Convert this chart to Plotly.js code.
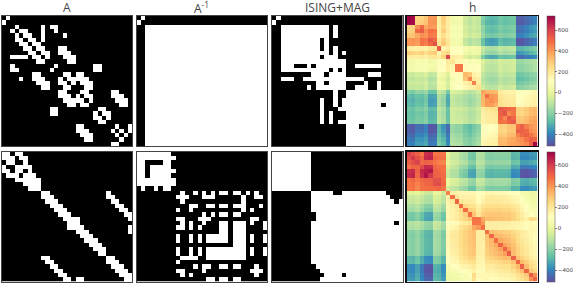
<!DOCTYPE html>
<html><head><meta charset="utf-8">
<script src="https://cdn.plot.ly/plotly-3.0.1.min.js"></script>
<style>html,body{margin:0;padding:0;background:#fff;overflow:hidden}</style></head>
<body><div id="c" style="width:573px;height:284px"></div>
<script>
const titles=["A","A<sup>-1</sup>","ISING+MAG","h"];
const colTicks=[600,400,200,0,-200,-400];
const aTop=["1","","3 9 11 12","4 5 9 12","5 6 9 14","6 7 9","7 8","8 9 13 14","9 10 13 14 15","10 14 15 16","15 16","12 21 22","21 22","14 15 17 18","15 16 17 18 19","16 18 19 20","19 20","18 19 25 26","19 20 25 26 27","20 26 27 28","27 28","22 23","23 24","24","","26 29","27 29","28","",""];
const invTop=["1","","2-29","3-29","4-29","5-29","6-29","7-29","8-29","9-29","10-29","11-29","12-29","13-29","14-29","15-29","16-29","17-29","18-29","19-29","20-29","21-29","22-29","23-29","24-29","25-29","26-29","27-29","28-29","29"];
const isingTop=["1","","2-12 14","3-12 14","4-12 14","5-10 12","6-10 12","7-10 12 14","8-12 14 16","9 10 12-14","10-16","11-16 19-24","12 14 16","13-16 22-24","14-20","15 16 21 24","16 19 20 21 24","17-29","18-29","19-29","20-24 26-29","21-29","22-29","23-29","24-29","25-29","26-29","27-29","28 29","29"];
const aBot=["0 1 3 4","1 2 4 5","2 5","3 4 5 6","4 6","5 6 7","6 7 8","7 8","8","9 10 24","10 11 24 25","11 12 25 26","12 13 26 27","13 14 27 28","14 15 28 29","15 16 17 29","16 17","17 18 29","18 19 29","19 20","20 21","21 22","22 23","23","24 25","25 26","26 27","27 28","28 29","29"];
const invBot=["0-7","1-8","6 7","3-7","4-8","5-7","6-8","7 8","","10 13 15 17 19 20 22 23 25 27","10 11 15 16 17 24 27 28","24","12 13 16 17 19 20 22 23 24 28","24 26","15 17 19 20 22 23","15 16 26 27","19 20 22 23 24 26 29","19 20 22 23 24 29","19 20 22 23 24","19 20 22 23 24 26 29","20 22 23 24 26 29","22 23 24","22 23 24 26 29","23 24 26 29","24","","27","27 28","",""];
const isingBot=["0-8","1-8","2-8","3-8","4-8","5-8","6-8","7 8","8","9-13 16-25","10-26","11-27 29","12-29","13-29","14-29","15-29","16-27 29","17-29","18-29","19-29","20-29","21-29","22-29","23-29","24-29","25-29","26-29","27-29","28 29","29"];
const hTop=[
[730,720,260,260,300,400,400,180,280,190,50,60,60,-60,-90,-60,-80,-210,-270,-290,-280,-240,-260,-250,-240,-480,-480,-450,-420,-400],
[720,270,280,310,410,410,170,270,180,40,50,50,-70,-100,-70,-90,-230,-290,-300,-290,-250,-270,-260,-250,-490,-490,-460,-430,-410],
[420,500,370,400,390,170,250,180,70,70,70,-50,-80,-60,-80,-180,-250,-270,-260,-220,-240,-230,-220,-440,-430,-400,-360,-340],
[530,420,480,470,170,280,190,60,70,60,-60,-90,-70,-90,-190,-270,-280,-270,-230,-250,-240,-230,-450,-440,-410,-370,-350],
[400,460,450,160,230,170,70,70,70,-40,-70,-50,-60,-170,-230,-240,-230,-200,-220,-210,-200,-410,-400,-370,-340,-320],
[540,500,200,270,200,40,60,30,-90,-130,-100,-120,-260,-330,-350,-340,-280,-300,-290,-280,-500,-500,-470,-440,-420],
[560,210,290,210,50,50,40,-80,-120,-90,-110,-250,-320,-340,-330,-270,-290,-280,-270,-490,-490,-460,-430,-410],
[530,150,180,120,120,120,60,30,50,40,-80,-130,-140,-130,-90,-110,-100,-90,-290,-290,-270,-240,-220],
[230,260,110,120,110,40,10,30,20,-110,-170,-180,-170,-130,-150,-140,-130,-360,-350,-320,-290,-270],
[590,190,170,170,-30,-60,-40,-60,-230,-300,-320,-310,-250,-270,-260,-250,-450,-450,-420,-400,-380],
[210,150,140,90,60,80,70,-40,-80,-90,-80,-50,-60,-60,-50,-170,-170,-150,-130,-120],
[470,470,130,100,120,110,-50,-100,-110,-100,-60,-80,-70,-60,-190,-190,-170,-150,-130],
[470,130,100,120,110,-50,-100,-110,-100,-60,-80,-70,-60,-190,-190,-170,-150,-130],
[330,300,160,140,-90,-130,-140,-130,-80,-100,-90,-90,-250,-240,-220,-200,-190],
[440,200,170,-110,-150,-170,-160,-110,-130,-120,-110,-280,-270,-250,-220,-210],
[450,180,-100,-130,-150,-140,-100,-120,-110,-100,-240,-230,-210,-190,-180],
[230,-60,-100,-110,-100,-60,-80,-70,-60,-200,-190,-170,-150,-140],
[380,340,340,330,190,170,160,160,90,100,120,140,150],
[490,400,390,210,190,180,180,100,110,130,150,160],
[420,390,220,200,190,190,110,120,140,160,170],
[340,230,210,200,200,120,130,150,170,180],
[540,520,500,480,270,260,290,330,340],
[550,430,470,260,250,280,320,330],
[540,510,300,290,320,360,370],
[540,310,300,330,370,380],
[480,520,450,400,390],
[520,500,420,400],
[520,470,430],
[520,510],
[720]];
const hBot=[
[600,560,520,470,640,650,470,470,470,-10,-60,-70,-120,-140,-220,-230,-110,-120,-190,-200,-190,-190,-190,-190,-280,-270,-370,-370,-350,-340],
[620,560,510,650,660,500,480,480,-20,-70,-80,-130,-150,-230,-240,-120,-130,-200,-210,-200,-200,-200,-200,-290,-280,-380,-380,-360,-350],
[590,500,520,510,470,450,440,0,-50,-60,-100,-120,-190,-200,-100,-110,-170,-180,-170,-170,-170,-170,-250,-240,-330,-330,-310,-300],
[570,650,640,500,480,480,-30,-80,-90,-150,-170,-250,-260,-130,-140,-220,-230,-220,-220,-220,-220,-310,-300,-410,-410,-390,-380],
[670,690,520,500,480,-60,-110,-120,-190,-220,-310,-320,-170,-180,-270,-280,-270,-270,-270,-280,-370,-360,-480,-490,-470,-450],
[620,520,510,490,-70,-120,-130,-200,-230,-320,-330,-180,-190,-280,-290,-280,-280,-280,-290,-380,-370,-490,-500,-480,-460],
[560,560,490,10,-30,-40,-80,-100,-160,-170,-70,-80,-140,-150,-140,-140,-140,-150,-210,-200,-290,-300,-280,-270],
[570,510,0,-40,-50,-90,-110,-170,-180,-80,-90,-150,-160,-150,-150,-150,-160,-220,-210,-300,-310,-290,-280],
[470,-50,-90,-100,-150,-170,-240,-250,-140,-150,-210,-220,-210,-210,-210,-220,-290,-280,-370,-370,-350,-340],
[450,170,160,150,150,140,150,110,120,150,150,150,140,140,130,110,110,60,60,30,30],
[480,200,170,170,160,170,120,150,190,200,190,180,180,170,150,140,100,70,40,40],
[500,210,190,190,190,130,170,200,200,200,200,190,190,170,150,110,80,50,40],
[490,260,230,230,170,220,240,240,240,240,230,230,210,190,150,110,70,60],
[490,280,260,190,250,270,270,270,270,260,260,240,210,160,120,80,70],
[490,310,210,280,300,300,300,300,290,290,270,230,180,140,110,90],
[470,470,370,320,320,310,310,300,300,270,240,200,170,250,240],
[470,400,180,180,180,180,180,180,170,160,150,130,140,130],
[480,180,180,180,170,170,170,160,150,140,130,150,140],
[480,310,300,290,280,270,250,220,190,170,150,140],
[500,340,330,310,300,270,230,190,170,140,130],
[490,370,340,320,290,240,200,180,150,130],
[510,380,350,310,250,220,190,160,140],
[510,390,330,270,230,200,170,150],
[530,320,270,230,200,170,150],
[520,310,270,230,190,170],
[500,330,280,220,200],
[520,320,250,220],
[500,300,260],
[530,420],
[500]];

const N=30;
function cells(spec){
  const out=[];
  spec.trim().split(/\s+/).filter(Boolean).forEach(t=>{
    const p=t.split('-').map(Number);
    for(let k=p[0];k<=(p.length>1?p[1]:p[0]);k++)out.push(k);
  });
  return out;
}
function bitMatrix(list){
  const m=Array.from({length:N},()=>new Array(N).fill(0));
  list.forEach((spec,i)=>cells(spec).forEach(j=>{m[i][j]=1;m[j][i]=1;}));
  return m;
}
function symMatrix(tri){
  const m=Array.from({length:N},()=>new Array(N).fill(0));
  tri.forEach((row,i)=>row.forEach((v,k)=>{m[i][i+k]=v;m[i+k][i]=v;}));
  return m;
}
const spectral=['#5e4fa2','#3288bd','#66c2a5','#abdda4','#e6f598','#ffffbf','#fee08b','#fdae61','#f46d43','#d53e4f','#9e0142'].map((c,i)=>[i/10,c]);
const W=573,H=284;
const xs=[[1.5,132],[136.5,267],[272,402.5],[406.5,537.5]];
const ys=[[16,146],[151.5,281.5]];
const mats=[[aTop,invTop,isingTop,hTop],[aBot,invBot,isingBot,hBot]];
const zr=[[-515,735],[-505,733]];
const traces=[];
const layout={width:W,height:H,margin:{l:0,r:0,t:0,b:0,autoexpand:false},paper_bgcolor:'#fff',plot_bgcolor:'#fff',showlegend:false,
  font:{family:'"Open Sans",sans-serif',color:'#333'},annotations:[]};
let n=0;
for(let r=0;r<2;r++)for(let c=0;c<4;c++){
  n++;
  const sx=n===1?'':String(n);
  const isH=c===3;
  const z=isH?symMatrix(mats[r][c]):bitMatrix(mats[r][c]);
  const t={type:'heatmap',z:z,xaxis:'x'+sx,yaxis:'y'+sx,hoverinfo:'skip',xgap:0,ygap:0};
  if(isH){
    Object.assign(t,{colorscale:spectral,zmin:zr[r][0],zmax:zr[r][1],showscale:true,
      colorbar:{x:547/W,xanchor:'left',xpad:0,ypad:0,thickness:7.5,thicknessmode:'pixels',
        len:(ys[r][1]-ys[r][0])/H,lenmode:'fraction',y:1-ys[r][0]/H,yanchor:'top',
        tickvals:colTicks,ticks:'outside',ticklen:2,tickwidth:0.6,tickcolor:'#333',
        tickfont:{size:5.5,color:'#444',family:'"DejaVu Sans",sans-serif'},outlinewidth:0.5,outlinecolor:'#555'}});
  }else{
    Object.assign(t,{colorscale:[[0,'#000'],[1,'#fff']],zmin:0,zmax:1,showscale:false});
  }
  traces.push(t);
  const axis={showticklabels:false,ticks:'',showgrid:false,zeroline:false,showline:true,mirror:true,linecolor:isH?'#111':'#444',linewidth:isH?1.2:1};
  layout['xaxis'+sx]=Object.assign({},axis,{domain:[xs[c][0]/W,xs[c][1]/W],range:[-0.5,29.5],anchor:'y'+sx});
  layout['yaxis'+sx]=Object.assign({},axis,{domain:[1-ys[r][1]/H,1-ys[r][0]/H],range:[29.5,-0.5],anchor:'x'+sx});
  if(r===0)layout.annotations.push({text:titles[c],x:(xs[c][0]+xs[c][1])/2/W,y:1-8/H,xref:'paper',yref:'paper',
    xanchor:'center',yanchor:'middle',showarrow:false,font:{size:12,color:'#444',family:'"Open Sans",sans-serif'}});
}
Plotly.newPlot('c',traces,layout,{staticPlot:true,displayModeBar:false}).then(()=>{
  document.querySelectorAll('.hm image').forEach(im=>{im.style.filter='blur(0.35px)';});
});
</script></body></html>
